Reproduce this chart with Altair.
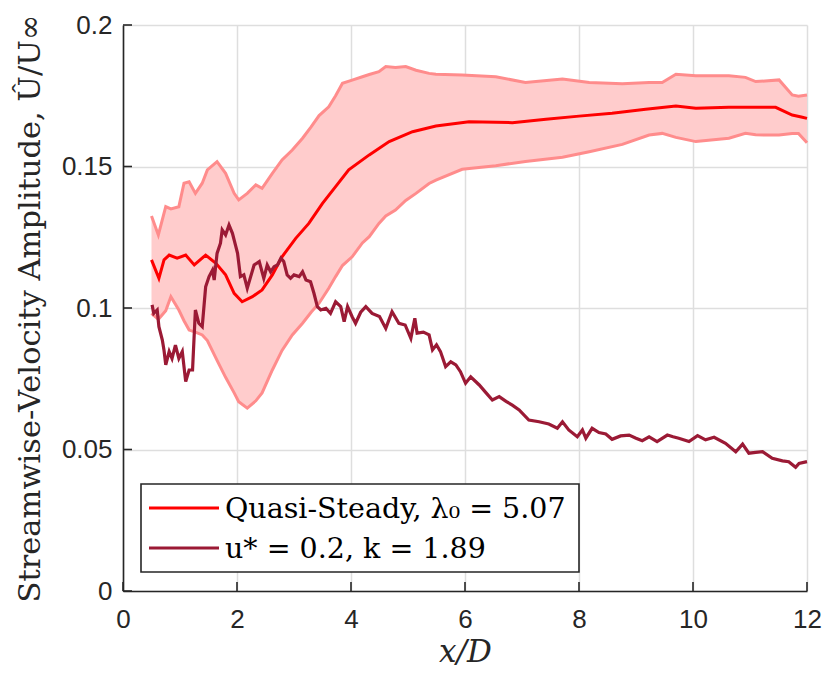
import altair as alt
import pandas as pd

# ---- data ----
band_x = [0.5, 0.62, 0.75, 0.84, 0.98, 1.07, 1.16, 1.27, 1.39, 1.48, 1.65, 1.80, 1.95, 2.03, 2.18,
          2.33, 2.44, 2.62, 2.79, 2.97, 3.15, 3.3, 3.44, 3.61, 3.73, 3.85, 4.02, 4.20, 4.32, 4.49,
          4.61, 4.78, 4.96, 5.14, 5.37, 5.49, 5.95, 6.54, 7.06, 7.71, 8.18, 8.76, 9.23, 9.46, 9.70,
          10.05, 10.63, 10.92, 11.10, 11.51, 11.74, 11.85, 12.0]
band_hi = [0.1325, 0.1258, 0.1358, 0.1350, 0.1358, 0.1441, 0.1446, 0.1405, 0.1441, 0.1488, 0.1517,
           0.1476, 0.1405, 0.1382, 0.1405, 0.1435, 0.1423, 0.1476, 0.1523, 0.1558, 0.1600, 0.1640,
           0.1680, 0.1711, 0.1750, 0.1794, 0.1805, 0.1817, 0.1825, 0.1835, 0.1853, 0.1850, 0.1853,
           0.1840, 0.1829, 0.1826, 0.1823, 0.1817, 0.1797, 0.1809, 0.1797, 0.1792, 0.1797, 0.1797,
           0.1826, 0.1821, 0.1821, 0.1815, 0.1800, 0.1806, 0.1753, 0.1748, 0.1753]
band_lo = [0.0981, 0.0960, 0.0990, 0.1040, 0.0993, 0.0955, 0.0922, 0.0915, 0.0905, 0.0885, 0.0815,
           0.0755, 0.0700, 0.0669, 0.0646, 0.0672, 0.0700, 0.0781, 0.0850, 0.0905, 0.0946, 0.0985,
           0.1017, 0.1070, 0.1111, 0.1150, 0.1181, 0.1230, 0.1252, 0.1299, 0.1325, 0.1346, 0.1380,
           0.1405, 0.1440, 0.1452, 0.1490, 0.1503, 0.1518, 0.1533, 0.1552, 0.1578, 0.1611, 0.1617,
           0.1603, 0.1588, 0.1600, 0.1617, 0.1612, 0.1611, 0.1617, 0.1617, 0.1584]

qs_x = [0.5, 0.63, 0.72, 0.81, 0.95, 1.10, 1.25, 1.45, 1.63, 1.80, 1.95, 2.09, 2.27, 2.44, 2.62, 2.79,
        3.03, 3.26, 3.50, 3.73, 3.96, 4.32, 4.67, 5.08, 5.49, 6.07, 6.83, 7.42, 8.0, 8.58, 9.17, 9.70,
        10.05, 10.63, 11.45, 11.74, 11.9, 12.0]
qs_y = [0.1170, 0.1105, 0.1170, 0.1187, 0.1176, 0.1187, 0.1152, 0.1187, 0.1158, 0.1117, 0.1052,
        0.1022, 0.1040, 0.1064, 0.1117, 0.1181, 0.1246, 0.1299, 0.1370, 0.1429, 0.1488, 0.1541,
        0.1588, 0.1623, 0.1643, 0.1658, 0.1655, 0.1667, 0.1678, 0.1688, 0.1702, 0.1714, 0.1706,
        0.1709, 0.1709, 0.1682, 0.1675, 0.1670]

u_x = [0.51, 0.54, 0.60, 0.63, 0.69, 0.72, 0.75, 0.81, 0.86, 0.92, 0.98, 1.04, 1.10, 1.16, 1.22, 1.27,
       1.33, 1.39, 1.45, 1.51, 1.57, 1.60, 1.65, 1.71, 1.74, 1.80, 1.86, 1.92, 1.98, 2.01, 2.06, 2.12,
       2.18, 2.24, 2.30, 2.39, 2.47, 2.53, 2.59, 2.65, 2.71, 2.77, 2.82, 2.88, 2.94, 3.00, 3.09, 3.15,
       3.21, 3.29, 3.35, 3.41, 3.47, 3.56, 3.64, 3.73, 3.82, 3.88, 3.94, 4.02, 4.08, 4.17, 4.26, 4.37,
       4.50, 4.61, 4.72, 4.84, 4.95, 5.05, 5.12, 5.16, 5.27, 5.37, 5.43, 5.50, 5.57, 5.66, 5.75, 5.84,
       5.92, 6.01, 6.10, 6.25, 6.37, 6.48, 6.60, 6.72, 6.83, 6.95, 7.12, 7.30, 7.47, 7.62, 7.71, 7.82,
       7.97, 8.06, 8.12, 8.23, 8.35, 8.47, 8.58, 8.73, 8.88, 9.00, 9.11, 9.23, 9.37, 9.55, 9.65, 9.75,
       9.93, 10.08, 10.22, 10.37, 10.57, 10.75, 10.87, 10.98, 11.10, 11.22, 11.39, 11.57, 11.68, 11.80,
       11.86, 12.00]
u_y = [0.1011, 0.0981, 0.0993, 0.0934, 0.0887, 0.0850, 0.0799, 0.0846, 0.0822, 0.0869, 0.0822, 0.0846,
       0.0740, 0.0781, 0.0781, 0.0993, 0.0946, 0.0934, 0.1075, 0.1111, 0.1134, 0.1099, 0.1193, 0.1229,
       0.1276, 0.1258, 0.1293, 0.1264, 0.1217, 0.1193, 0.1111, 0.1117, 0.1070, 0.1111, 0.1152, 0.1164,
       0.1105, 0.1152, 0.1128, 0.1146, 0.1152, 0.1176, 0.1164, 0.1117, 0.1105, 0.1117, 0.1111, 0.1128,
       0.1099, 0.1093, 0.1052, 0.1005, 0.0993, 0.0999, 0.0981, 0.1022, 0.1005, 0.0952, 0.1005, 0.0969,
       0.0946, 0.0985, 0.1005, 0.0981, 0.0970, 0.0928, 0.0987, 0.0946, 0.0940, 0.0893, 0.0964, 0.0911,
       0.0915, 0.0905, 0.0852, 0.0870, 0.0846, 0.0793, 0.0810, 0.0799, 0.0775, 0.0734, 0.0757, 0.0728,
       0.0700, 0.0675, 0.0687, 0.0670, 0.0657, 0.0640, 0.0604, 0.0598, 0.0590, 0.0575, 0.0598, 0.0569,
       0.0545, 0.0569, 0.0540, 0.0575, 0.0560, 0.0555, 0.0536, 0.0548, 0.0551, 0.0540, 0.0531, 0.0545,
       0.0528, 0.0551, 0.0545, 0.0540, 0.0528, 0.0549, 0.0534, 0.0543, 0.0522, 0.0492, 0.0519, 0.0487,
       0.0490, 0.0492, 0.0469, 0.0460, 0.0457, 0.0437, 0.0451, 0.0457]

series_names = ["Quasi-Steady, λ₀ = 5.07", "u* = 0.2, k = 1.89"]
series_colors = ["#ff0000", "#9b1a35"]
x_ticks = [0, 2, 4, 6, 8, 10, 12]
y_ticks = [0, 0.05, 0.1, 0.15, 0.2]

W, H = 684, 566
AX = "#262626"

band = pd.DataFrame({"x": band_x, "hi": band_hi, "lo": band_lo})
qs = pd.DataFrame({"x": qs_x, "y": qs_y, "s": series_names[0]})
uu = pd.DataFrame({"x": u_x, "y": u_y, "s": series_names[1]})
xt = pd.DataFrame({"x": x_ticks})
yt = pd.DataFrame({"y": y_ticks})

xs = alt.Scale(domain=[0, 12], nice=False)
ys = alt.Scale(domain=[0, 0.2], nice=False)

xaxis = alt.Axis(values=x_ticks, format="~g", title="x/D", titleFont="DejaVu Serif",
                 titleFontStyle="italic", labelFlush=False,
                 titleFontSize=31, titleFontWeight="normal", titleColor=AX, titlePadding=5,
                 labelFont="Liberation Sans", labelFontSize=26, labelColor=AX, labelPadding=15,
                 ticks=False, tickSize=0, domainColor=AX, domainWidth=1.6,
                 grid=True, gridColor="#dedede", gridWidth=1.5)
yaxis = alt.Axis(values=y_ticks, format="~g", labelFlush=False,
                 title="Streamwise-Velocity Amplitude, Û/U∞", titleFont="DejaVu Serif",
                 titleFontSize=30.5, titleFontWeight="normal", titleColor=AX, titlePadding=16,
                 labelFont="Liberation Sans", labelFontSize=26, labelColor=AX, labelPadding=11,
                 ticks=False, tickSize=0, domainColor=AX, domainWidth=1.6,
                 grid=True, gridColor="#dedede", gridWidth=1.5)

cscale = alt.Scale(domain=series_names, range=series_colors)

area = alt.Chart(band).mark_area(color="#ffcccc", opacity=1).encode(
    x=alt.X("x:Q", scale=xs, axis=xaxis), y=alt.Y("hi:Q", scale=ys, axis=yaxis), y2="lo:Q")
edge_hi = alt.Chart(band).mark_line(color="#ff8c8c", strokeWidth=3).encode(
    x=alt.X("x:Q", scale=xs), y=alt.Y("hi:Q", scale=ys))
edge_lo = alt.Chart(band).mark_line(color="#ff8c8c", strokeWidth=3).encode(
    x=alt.X("x:Q", scale=xs), y=alt.Y("lo:Q", scale=ys))
qs_line = alt.Chart(qs).mark_line(strokeWidth=3).encode(
    x=alt.X("x:Q", scale=xs), y=alt.Y("y:Q", scale=ys),
    color=alt.Color("s:N", scale=cscale, legend=None))
u_line = alt.Chart(uu).mark_line(strokeWidth=3.2).encode(
    x=alt.X("x:Q", scale=xs), y=alt.Y("y:Q", scale=ys),
    color=alt.Color("s:N", scale=cscale, legend=None))
xtick = alt.Chart(xt).mark_rule(color=AX, strokeWidth=1.6).encode(
    x=alt.X("x:Q", scale=xs), y=alt.value(H), y2=alt.value(H - 9))
ytick = alt.Chart(yt).mark_rule(color=AX, strokeWidth=1.6).encode(
    y=alt.Y("y:Q", scale=ys), x=alt.value(0), x2=alt.value(9))

# ---- legend (box, line samples, labels) ----
LX0, LX1, LY0, LY1 = 18, 456, 459, 547
ROW_Y = [483, 523]
leg_box = alt.Chart(pd.DataFrame({"k": [0]})).mark_rect(
    fill="#ffffff", stroke=AX, strokeWidth=1.6).encode(
    x=alt.value(LX0), x2=alt.value(LX1), y=alt.value(LY0), y2=alt.value(LY1))
leg_layers = [leg_box]
for i, name in enumerate(series_names):
    d = pd.DataFrame({"s": [name]})
    leg_layers.append(alt.Chart(d).mark_rule(strokeWidth=3).encode(
        x=alt.value(26), x2=alt.value(96), y=alt.value(ROW_Y[i]),
        color=alt.Color("s:N", scale=cscale, legend=None)))
    leg_layers.append(alt.Chart(d).mark_text(
        align="left", baseline="middle", font="DejaVu Serif", fontSize=28.5,
        color="#000000").encode(
        x=alt.value(102), y=alt.value(ROW_Y[i] + 1), text="s:N"))

chart = alt.layer(area, edge_hi, edge_lo, qs_line, u_line, xtick, ytick,
                  *leg_layers).properties(
    width=W, height=H,
    autosize=alt.AutoSizeParams(type="none"),
    padding={"left": 115, "top": 17, "right": 15, "bottom": 82},
    background="#ffffff",
).configure_view(strokeWidth=0)

chart.save("out.html", embed_options={"renderer": "svg", "actions": False})
